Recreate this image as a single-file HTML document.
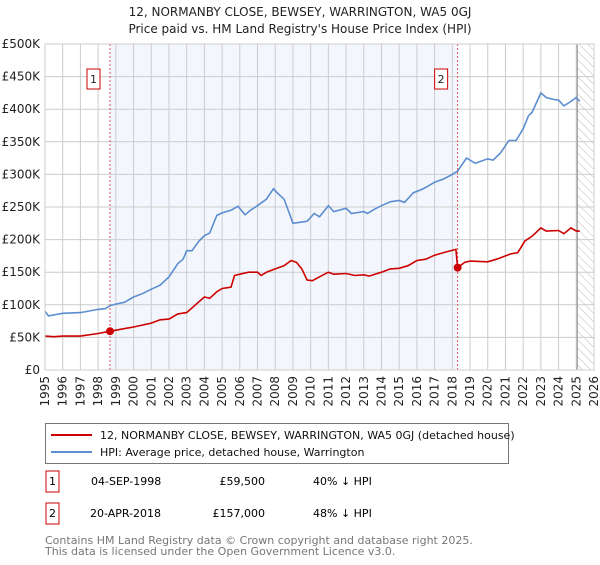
<!DOCTYPE html>
<html><head><meta charset="utf-8"><style>
body{margin:0;background:#fff;font-family:"Liberation Sans","DejaVu Sans",sans-serif;}
svg text{font-family:"DejaVu Sans","Liberation Sans",sans-serif;}
</style></head><body>
<svg id="c" width="600" height="560" xmlns="http://www.w3.org/2000/svg">
<defs><pattern id="hatch" width="6" height="6" patternUnits="userSpaceOnUse" patternTransform="rotate(-45)"><line x1="0" y1="0" x2="0" y2="6" stroke="#bbb" stroke-width="1"/></pattern></defs>
<text x="300" y="16" text-anchor="middle" font-size="12" fill="#222">12, NORMANBY CLOSE, BEWSEY, WARRINGTON, WA5 0GJ</text>
<text x="300" y="33" text-anchor="middle" font-size="12" fill="#222">Price paid vs. HM Land Registry's House Price Index (HPI)</text>
<g id="plot"></g>
<g>
<rect x="45.5" y="423.5" width="463" height="40" fill="#fff" stroke="#777"/>
<line x1="51" y1="435" x2="92" y2="435" stroke="#cc0000" stroke-width="2"/>
<text x="100" y="439" font-size="11" fill="#111">12, NORMANBY CLOSE, BEWSEY, WARRINGTON, WA5 0GJ (detached house)</text>
<line x1="51" y1="452" x2="92" y2="452" stroke="#5b8dd0" stroke-width="2"/>
<text x="100" y="456" font-size="11" fill="#111">HPI: Average price, detached house, Warrington</text>
</g>
<g>
<rect x="46" y="471" width="13" height="21" fill="#fff" stroke="#c00"/>
<text x="52.5" y="485" text-anchor="middle" font-size="11">1</text>
<text x="91" y="485" font-size="11">04-SEP-1998</text>
<text x="265" y="485" font-size="11" text-anchor="end">£59,500</text>
<text x="313" y="485" font-size="11">40% ↓ HPI</text>
</g>
<g>
<rect x="46" y="503" width="13" height="21" fill="#fff" stroke="#c00"/>
<text x="52.5" y="517" text-anchor="middle" font-size="11">2</text>
<text x="90" y="517" font-size="11">20-APR-2018</text>
<text x="265" y="517" font-size="11" text-anchor="end">£157,000</text>
<text x="313" y="517" font-size="11">48% ↓ HPI</text>
</g>
<text x="45" y="544" font-size="11" fill="#777">Contains HM Land Registry data © Crown copyright and database right 2025.</text>
<text x="45" y="555" font-size="11" fill="#777">This data is licensed under the Open Government Licence v3.0.</text>
</svg>
<script>
const hpiYears=[1995,1995.2,1996,1997,1998,1998.4,1998.7,1999,1999.5,2000,2000.5,2001,2001.5,2002,2002.5,2002.8,2003,2003.3,2003.7,2004,2004.3,2004.7,2005,2005.5,2005.9,2006.3,2006.6,2007,2007.5,2007.9,2008.1,2008.5,2008.8,2009,2009.3,2009.8,2010.2,2010.5,2011,2011.3,2012,2012.3,2013,2013.2,2013.7,2014,2014.5,2015,2015.3,2015.8,2016.2,2016.5,2017,2017.5,2018,2018.3,2018.8,2019.3,2020,2020.3,2020.7,2021.2,2021.6,2022,2022.3,2022.5,2023,2023.3,2023.7,2024,2024.3,2024.7,2025,2025.2];
const hpiValues=[90,83,87,88,93,94,99,101,104,112,117,124,130,143,163,170,183,183,198,206,210,237,241,245,251,238,245,252,262,278,272,262,240,225,226,228,240,235,252,243,248,240,243,240,248,252,258,260,257,272,276,280,288,293,300,305,325,317,324,322,332,352,352,370,390,395,425,418,415,414,405,412,418,412];
const ppYears=[1995,1995.5,1996,1997,1998,1998.67,1999,2000,2001,2001.5,2002,2002.5,2003,2003.5,2004,2004.3,2004.7,2005,2005.5,2005.7,2006,2006.5,2007,2007.2,2007.5,2008,2008.5,2008.9,2009.2,2009.5,2009.8,2010.1,2010.5,2011,2011.3,2012,2012.5,2013,2013.3,2014,2014.5,2015,2015.5,2016,2016.5,2017,2017.5,2018.2,2018.3,2018.7,2019,2020,2020.5,2021.3,2021.7,2022.1,2022.5,2023,2023.3,2024,2024.3,2024.7,2025,2025.2];
const ppValues=[52,51,52,52,56,59.5,61,66,72,77,78,86,88,100,112,110,120,125,127,145,147,150,150,145,150,155,160,168,165,155,138,137,143,150,147,148,145,146,144,150,155,156,160,168,170,176,180,185,157,165,167,166,170,178,180,198,205,218,213,214,209,218,213,213];
const yTicks=[0,50,100,150,200,250,300,350,400,450,500];
const xTicks=[1995,1996,1997,1998,1999,2000,2001,2002,2003,2004,2005,2006,2007,2008,2009,2010,2011,2012,2013,2014,2015,2016,2017,2018,2019,2020,2021,2022,2023,2024,2025,2026];
const sales=[[1998.67,59.5,'1'],[2018.3,157,'2']];
const X0=45,X1=594,Y0=370,Y1=44;
const sx=y=>X0+(y-1995)/(2026-1995)*(X1-X0);
const sy=v=>Y0-v/500*(Y0-Y1);
const NS='http://www.w3.org/2000/svg';
const g=document.getElementById('plot');
function mk(t,a,p){const e=document.createElementNS(NS,t);for(const k in a)e.setAttribute(k,a[k]);(p||g).appendChild(e);return e;}
let e=mk('rect',{x:sx(1998.67),y:Y1,width:sx(2018.3)-sx(1998.67),height:Y0-Y1,fill:'#eef3fc',opacity:0.7});


e=mk('rect',{x:sx(2025.05),y:Y1,width:X1-sx(2025.05),height:Y0-Y1,fill:'url(#hatch)'});


yTicks.forEach(v=>{
 let l=mk('line',{x1:X0,x2:X1,y1:sy(v),y2:sy(v),stroke:'#ccc'});
 
 
 let t=mk('text',{x:40,y:sy(v)+4,'text-anchor':'end','font-size':12,fill:'#222'});
 t.textContent=v===0?'£0':'£'+v+'K';
 
 
});
xTicks.forEach(y=>{
 let l=mk('line',{x1:sx(y),x2:sx(y),y1:Y1,y2:Y0,stroke:'#ccc'});
 
 
 let t=mk('text',{x:0,y:0,'font-size':12,fill:'#222','text-anchor':'end',transform:`translate(${sx(y)+4},376) rotate(-90)`});
 t.textContent=y;
 
 
});
e=mk('line',{x1:sx(2025.05),x2:sx(2025.05),y1:Y1,y2:Y0,stroke:'#888','stroke-width':1});


sales.forEach(s=>{
 let l=mk('line',{x1:sx(s[0]),x2:sx(s[0]),y1:Y1,y2:Y0,stroke:'#e05050','stroke-dasharray':'2,2'});
 
 
});
function path(xs,vs,col,name){
 let d=xs.map((x,i)=>(i?'L':'M')+sx(x).toFixed(1)+','+sy(vs[i]).toFixed(1)).join('');
 let p=mk('path',{d:d,fill:'none',stroke:col,'stroke-width':1.6});
 
 
}
path(hpiYears,hpiValues,'#5b8dd0','hpi-line');
path(ppYears,ppValues,'#cc0000','price-paid-line');
sales.forEach(s=>{
 let c=mk('circle',{cx:sx(s[0]),cy:sy(s[1]),r:4,fill:'#cc0000'});
 
 
 let bx=sx(s[0])-10;
 let r=mk('rect',{x:bx-13,y:69,width:13,height:20,fill:'#fff',stroke:'#c00'});
 
 
 let t=mk('text',{x:bx-6.5,y:83,'text-anchor':'middle','font-size':11,fill:'#222'});
 t.textContent=s[2];
 
 
});
e=mk('rect',{x:X0,y:Y1,width:X1-X0,height:Y0-Y1,fill:'none',stroke:'#ccc'});


</script>
</body></html>
